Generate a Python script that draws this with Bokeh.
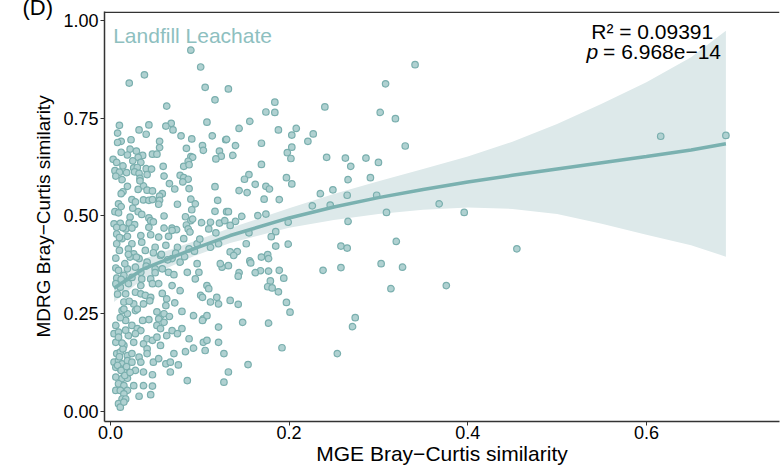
from bokeh.plotting import figure
from bokeh.models import Range1d, FixedTicker, PrintfTickFormatter, Label, Title, Span, ColumnDataSource
from bokeh.embed import file_html
from bokeh.resources import INLINE

# MGE Bray-Curtis similarity (x) and MDRG Bray-Curtis similarity (y)
mge_sim = [
    0.090, 0.101, 0.038, 0.021, 0.106, 0.132, 0.117, 0.063, 0.108, 0.068,
    0.062, 0.010, 0.043, 0.032, 0.070, 0.040, 0.008, 0.079, 0.114, 0.091,
    0.023, 0.012, 0.008, 0.055, 0.129, 0.103, 0.085, 0.104, 0.022, 0.012,
    0.029, 0.047, 0.052, 0.019, 0.036, 0.031, 0.122, 0.124, 0.090, 0.092,
    0.118, 0.003, 0.007, 0.087, 0.025, 0.034, 0.014, 0.059, 0.082, 0.088,
    0.026, 0.030, 0.040, 0.005, 0.010, 0.018, 0.027, 0.032, 0.041, 0.060,
    0.078, 0.082, 0.006, 0.087, 0.013, 0.033, 0.081, 0.066, 0.117, 0.019,
    0.037, 0.014, 0.041, 0.012, 0.031, 0.088, 0.047, 0.058, 0.055, 0.072,
    0.024, 0.037, 0.043, 0.047, 0.055, 0.090, 0.120, 0.028, 0.054, 0.075,
    0.095, 0.009, 0.012, 0.005, 0.091, 0.117, 0.009, 0.031, 0.035, 0.130,
    0.022, 0.043, 0.045, 0.060, 0.084, 0.090, 0.092, 0.102, 0.004, 0.011,
    0.021, 0.027, 0.048, 0.085, 0.112, 0.122, 0.128, 0.069, 0.074,
    # lower-left block
    0.007, 0.017, 0.024, 0.043, 0.060, 0.069, 0.087, 0.110, 0.007, 0.013,
    0.019, 0.034, 0.045, 0.054, 0.065, 0.082, 0.089, 0.118, 0.007, 0.024,
    0.035, 0.050, 0.062, 0.075, 0.088, 0.097, 0.112, 0.121, 0.010, 0.020,
    0.026, 0.039, 0.048, 0.006, 0.022, 0.032, 0.041, 0.056, 0.069, 0.078,
    0.097, 0.125, 0.132, 0.006, 0.009, 0.019, 0.028, 0.034, 0.050, 0.058,
    0.065, 0.071, 0.086, 0.099, 0.007, 0.015, 0.024, 0.035, 0.045, 0.095,
    0.006, 0.011, 0.020, 0.034, 0.047, 0.054, 0.069, 0.078, 0.108, 0.110,
    0.123, 0.134, 0.017, 0.028, 0.034, 0.039, 0.045, 0.063, 0.101, 0.112,
    0.121, 0.119, 0.015, 0.026, 0.037, 0.062, 0.103, 0.013, 0.019, 0.028,
    0.056, 0.060, 0.093, 0.104, 0.108, 0.017, 0.043, 0.054, 0.060, 0.103,
    0.006, 0.024, 0.030, 0.034, 0.052, 0.056, 0.069, 0.080, 0.121, 0.004,
    0.009, 0.020, 0.028, 0.041, 0.047, 0.052, 0.063, 0.075, 0.088, 0.104,
    0.108, 0.006, 0.015, 0.026, 0.037, 0.056, 0.041, 0.084, 0.093, 0.106,
    0.121, 0.007, 0.011, 0.019, 0.024, 0.032, 0.041, 0.071, 0.127, 0.004,
    0.009, 0.013, 0.019, 0.024, 0.034, 0.048, 0.054, 0.062, 0.067, 0.076,
    0.006, 0.011, 0.015, 0.028, 0.037, 0.047, 0.067, 0.132, 0.006, 0.013,
    0.019, 0.086, 0.127, 0.009, 0.015, 0.026, 0.037, 0.047, 0.006, 0.011,
    0.019, 0.015, 0.032, 0.045, 0.013, 0.017, 0.009, 0.011, 0.015,
    # dense lower-left cluster (extra readings)
    0.008, 0.012, 0.016, 0.010, 0.014, 0.018, 0.022, 0.009, 0.013, 0.017,
    0.011, 0.015, 0.021, 0.008, 0.012, 0.016, 0.020, 0.010, 0.014, 0.025,
    0.030, 0.036, 0.044, 0.052, 0.058, 0.066, 0.072, 0.080, 0.029, 0.040,
    0.050, 0.057, 0.064, 0.073, 0.083, 0.094, 0.100, 0.033, 0.046, 0.055,
    # middle upper block
    0.341, 0.308, 0.184, 0.174, 0.184, 0.240, 0.302, 0.319, 0.156, 0.144,
    0.188, 0.208, 0.227, 0.203, 0.130, 0.169, 0.221, 0.330, 0.140, 0.203,
    0.137, 0.198, 0.202, 0.242, 0.263, 0.286, 0.169, 0.269, 0.300, 0.155,
    0.150, 0.197, 0.266, 0.291, 0.162, 0.174, 0.178, 0.203, 0.144, 0.153,
    0.235, 0.249, 0.265, 0.298, 0.172, 0.189, 0.226, 0.246, 0.132, 0.147,
    0.165, 0.174, 0.309, 0.140, 0.134, 0.199, 0.266,
    # middle lower block
    0.185, 0.155, 0.180, 0.320, 0.152, 0.199, 0.185, 0.258, 0.265, 0.134,
    0.142, 0.138, 0.176, 0.169, 0.177, 0.156, 0.157, 0.303, 0.327, 0.258,
    0.238, 0.189, 0.177, 0.168, 0.162, 0.144, 0.143, 0.194, 0.179, 0.176,
    0.181, 0.188, 0.314, 0.143, 0.197, 0.201, 0.274, 0.271, 0.148, 0.177,
    0.192, 0.254, 0.154,
    # right block
    0.616, 0.689, 0.368, 0.396, 0.455, 0.376,
]
mdrg_sim = [
    0.924, 0.881, 0.861, 0.840, 0.829, 0.825, 0.797, 0.781, 0.740, 0.737,
    0.730, 0.732, 0.733, 0.720, 0.720, 0.709, 0.712, 0.705, 0.705, 0.697,
    0.695, 0.691, 0.688, 0.691, 0.695, 0.680, 0.673, 0.668, 0.671, 0.663,
    0.666, 0.658, 0.658, 0.656, 0.655, 0.650, 0.666, 0.653, 0.652, 0.650,
    0.646, 0.645, 0.637, 0.640, 0.641, 0.637, 0.628, 0.627, 0.627, 0.631,
    0.623, 0.624, 0.621, 0.616, 0.612, 0.611, 0.613, 0.609, 0.606, 0.602,
    0.604, 0.598, 0.602, 0.594, 0.593, 0.596, 0.587, 0.583, 0.575, 0.576,
    0.577, 0.562, 0.566, 0.557, 0.568, 0.570, 0.564, 0.557, 0.551, 0.569,
    0.542, 0.541, 0.540, 0.542, 0.540, 0.543, 0.540, 0.536, 0.530, 0.530,
    0.531, 0.531, 0.524, 0.511, 0.516, 0.512, 0.508, 0.511, 0.504, 0.511,
    0.497, 0.495, 0.488, 0.500, 0.498, 0.488, 0.492, 0.483, 0.480, 0.481,
    0.482, 0.478, 0.485, 0.477, 0.484, 0.482, 0.488, 0.469, 0.465,
    # lower-left block
    0.471, 0.467, 0.469, 0.471, 0.469, 0.463, 0.467, 0.467, 0.454, 0.442,
    0.448, 0.450, 0.452, 0.446, 0.448, 0.442, 0.459, 0.457, 0.429, 0.429,
    0.433, 0.420, 0.425, 0.420, 0.416, 0.429, 0.420, 0.429, 0.412, 0.416,
    0.403, 0.412, 0.406, 0.392, 0.395, 0.391, 0.382, 0.399, 0.391, 0.382,
    0.378, 0.369, 0.373, 0.367, 0.361, 0.365, 0.369, 0.356, 0.365, 0.365,
    0.356, 0.350, 0.356, 0.356, 0.341, 0.348, 0.343, 0.339, 0.339, 0.339,
    0.327, 0.318, 0.327, 0.322, 0.327, 0.327, 0.322, 0.309, 0.322, 0.314,
    0.378, 0.284, 0.301, 0.305, 0.301, 0.297, 0.292, 0.288, 0.297, 0.280,
    0.275, 0.292, 0.280, 0.275, 0.275, 0.271, 0.292, 0.258, 0.250, 0.258,
    0.245, 0.250, 0.245, 0.237, 0.245, 0.233, 0.235, 0.237, 0.228, 0.233,
    0.220, 0.220, 0.212, 0.207, 0.220, 0.212, 0.207, 0.212, 0.216, 0.199,
    0.203, 0.194, 0.199, 0.186, 0.182, 0.190, 0.194, 0.199, 0.186, 0.177,
    0.182, 0.177, 0.169, 0.177, 0.173, 0.169, 0.160, 0.153, 0.162, 0.156,
    0.177, 0.148, 0.152, 0.143, 0.148, 0.139, 0.148, 0.148, 0.148, 0.126,
    0.130, 0.122, 0.130, 0.126, 0.126, 0.126, 0.135, 0.122, 0.126, 0.119,
    0.113, 0.109, 0.101, 0.105, 0.101, 0.094, 0.101, 0.101, 0.088, 0.084,
    0.085, 0.079, 0.075, 0.071, 0.066, 0.066, 0.066, 0.065, 0.054, 0.054,
    0.054, 0.045, 0.039, 0.043, 0.032, 0.032, 0.020, 0.011, 0.024,
    # dense lower-left cluster (extra readings)
    0.118, 0.105, 0.092, 0.140, 0.160, 0.115, 0.100, 0.190, 0.175, 0.208,
    0.240, 0.262, 0.282, 0.300, 0.338, 0.378, 0.402, 0.445, 0.470, 0.520,
    0.262, 0.233, 0.283, 0.255, 0.302, 0.243, 0.278, 0.256, 0.395, 0.372,
    0.355, 0.402, 0.388, 0.405, 0.396, 0.410, 0.441, 0.590, 0.620, 0.675,
    # middle upper block
    0.887, 0.838, 0.791, 0.766, 0.765, 0.779, 0.765, 0.749, 0.742, 0.724,
    0.720, 0.724, 0.710, 0.707, 0.696, 0.686, 0.691, 0.679, 0.680, 0.676,
    0.655, 0.662, 0.647, 0.650, 0.648, 0.648, 0.632, 0.627, 0.637, 0.606,
    0.594, 0.598, 0.593, 0.598, 0.581, 0.576, 0.569, 0.582, 0.565, 0.560,
    0.557, 0.567, 0.553, 0.553, 0.543, 0.542, 0.526, 0.528, 0.511, 0.499,
    0.501, 0.505, 0.509, 0.486, 0.476, 0.484, 0.486,
    # middle lower block
    0.460, 0.457, 0.447, 0.435, 0.429, 0.428, 0.423, 0.423, 0.418, 0.408,
    0.409, 0.399, 0.401, 0.395, 0.391, 0.385, 0.380, 0.378, 0.369, 0.368,
    0.361, 0.361, 0.359, 0.360, 0.355, 0.355, 0.346, 0.341, 0.334, 0.319,
    0.316, 0.306, 0.314, 0.274, 0.279, 0.254, 0.240, 0.217, 0.228, 0.226,
    0.163, 0.148, 0.120,
    # right block
    0.704, 0.706, 0.531, 0.509, 0.416, 0.322,
]

# fitted smooth curve and its confidence band
fit_x = [0.004, 0.037, 0.093, 0.134, 0.20, 0.25, 0.30, 0.35, 0.40, 0.45, 0.50, 0.55, 0.60, 0.65, 0.689]
fit_y = [0.315, 0.365, 0.416, 0.450, 0.495, 0.523, 0.547, 0.568, 0.587, 0.604, 0.620, 0.636, 0.652, 0.669, 0.685]
band_lo = [0.280, 0.340, 0.397, 0.431, 0.470, 0.490, 0.505, 0.516, 0.522, 0.518, 0.505, 0.480, 0.452, 0.425, 0.396]
band_hi = [0.350, 0.390, 0.435, 0.469, 0.520, 0.556, 0.589, 0.620, 0.652, 0.690, 0.735, 0.787, 0.842, 0.906, 0.974]

x_ticks = [0.0, 0.2, 0.4, 0.6]
y_ticks = [0.0, 0.25, 0.5, 0.75, 1.0]

FONT = "Liberation Sans"
AXIS_COL = "#333333"
TEAL = "#7ab1b0"

panel_title = Title(text="(D)", align="left", vertical_align="bottom", offset=-82, standoff=-17,
                    text_font=FONT, text_font_size="22px", text_font_style="normal",
                    text_color="black")

p = figure(width=780, height=467, output_backend="svg", toolbar_location=None,
           x_range=Range1d(-0.0067, 0.749), y_range=Range1d(-0.0256, 1.023),
           min_border_left=104, min_border_right=1, min_border_top=11, min_border_bottom=43,
           title=panel_title)
p.outline_line_color = None
p.grid.visible = False
p.background_fill_color = "white"

p.varea(x=fit_x, y1=band_lo, y2=band_hi, fill_color="#dde9ea", fill_alpha=1.0)

src = ColumnDataSource(dict(x=mge_sim, y=mdrg_sim))
p.scatter("x", "y", source=src, size=6.5, fill_color="#b0d1d1", line_color="#7aafae", line_width=1.2)

p.line(fit_x, fit_y, line_color=TEAL, line_width=3.5)

for ax in (p.xaxis[0], p.yaxis[0]):
    ax.axis_line_color = AXIS_COL
    ax.axis_line_width = 1.5
    ax.major_tick_line_color = AXIS_COL
    ax.major_tick_out = 4
    ax.major_tick_in = 0
    ax.minor_tick_line_color = None
    ax.major_label_text_font = FONT
    ax.major_label_text_font_size = "18px"
    ax.major_label_text_color = "black"
    ax.axis_label_text_font = FONT
    ax.axis_label_text_font_style = "normal"
    ax.axis_label_text_color = "black"

p.xaxis[0].ticker = FixedTicker(ticks=x_ticks)
p.yaxis[0].ticker = FixedTicker(ticks=y_ticks)
p.yaxis[0].formatter = PrintfTickFormatter(format="%.2f")
p.xaxis[0].formatter = PrintfTickFormatter(format="%.1f")
p.xaxis[0].axis_label = "MGE Bray\u2212Curtis similarity"
p.yaxis[0].axis_label = "MDRG Bray\u2212Curtis similarity"
p.xaxis[0].axis_label_text_font_size = "21px"
p.yaxis[0].axis_label_text_font_size = "19px"
p.xaxis[0].major_label_standoff = 0
p.yaxis[0].major_label_standoff = 2
p.xaxis[0].axis_label_standoff = 0
p.yaxis[0].axis_label_standoff = 6

# top border line of the panel (no right border in the reference)
p.add_layout(Span(location=1.021, dimension="width", line_color=AXIS_COL, line_width=1.5))

p.add_layout(Label(x=0.003, y=0.9616, text="Landfill Leachate", text_font=FONT,
                   text_font_size="21px", text_color="#8ec0bf", text_baseline="alphabetic"))
p.add_layout(Label(x=0.6065, y=0.9706, text="R\u00b2 = 0.09391", text_font=FONT,
                   text_font_size="21px", text_color="black", text_align="center",
                   text_baseline="alphabetic"))
p.add_layout(Label(x=0.533, y=0.9195, text="p", text_font=FONT, text_font_style="italic",
                   text_font_size="21px", text_color="black", text_baseline="alphabetic"))
p.add_layout(Label(x=0.5515, y=0.9195, text="= 6.968e\u221214", text_font=FONT,
                   text_font_size="21px", text_color="black", text_baseline="alphabetic"))

open("out.html", "w").write(file_html(p, INLINE))
